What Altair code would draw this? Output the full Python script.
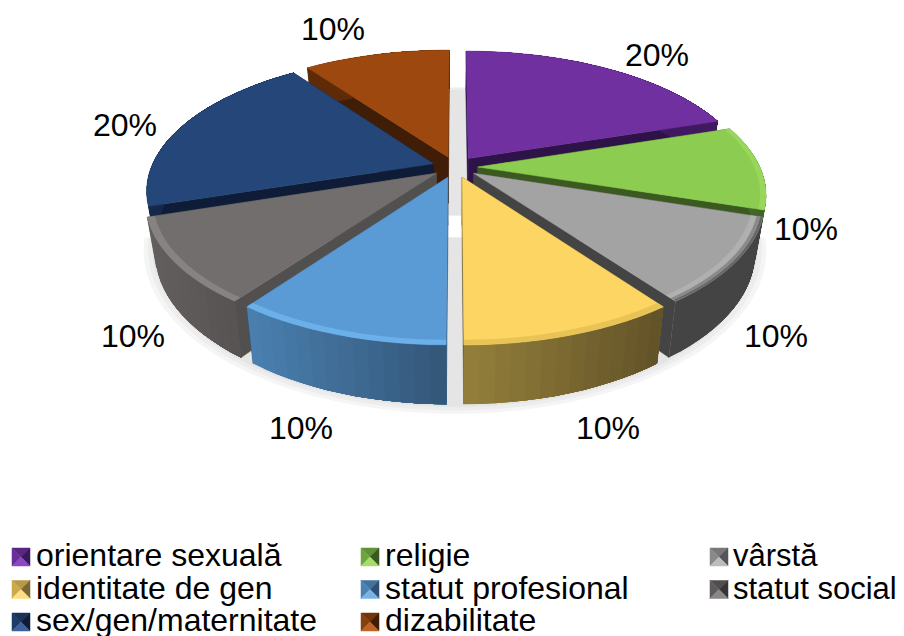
import math
import altair as alt

# ---- chart values ----
categories = ["orientare sexuală", "religie", "vârstă", "identitate de gen",
              "statut profesional", "statut social", "sex/gen/maternitate", "dizabilitate"]
shares = [20, 10, 10, 10, 10, 10, 20, 10]
percent_labels = ["20%", "10%", "10%", "10%", "10%", "10%", "20%", "10%"]

top_colors = ["#7030a0", "#8ccc50", "#a3a3a3", "#fcd562", "#5b9bd5", "#716e6d", "#244678", "#9c480f"]
edge_colors = ["#2d1347", "#3b5a20", "#444444", "#625228", "#335678", "#524f4f", "#0e1c38", "#401d06"]
side_left = ["#3f1a60", "#4a7a2c", "#444444", "#94803b", "#4a80b0", "#635f5e", "#16294a", "#5e2a08"]
side_right = ["#3f1a60", "#3f6526", "#444444", "#625228", "#335678", "#575352", "#16294a", "#5e2a08"]
rim_bands = [
    [],
    [(0.98, 1.0, "#98d65c")],
    [(0.96, 0.98, "#b0b0b0"), (0.98, 0.992, "#8a8a8a"), (0.992, 1.0, "#666666")],
    [(0.975, 1.0, "#e8c356")],
    [(0.975, 1.0, "#6cb0ea")],
    [(0.975, 1.0, "#868382")],
    [],
    [],
]
icon_bevel = [
    ("#5a2680", "#6a2e98", "#3a1860", "#8a48c0"),
    ("#5f9236", "#6fa53f", "#3b5a20", "#a5dc6c"),
    ("#787878", "#8a8a8a", "#555555", "#bcbcbc"),
    ("#b89a44", "#cbaa4c", "#7a6630", "#fde082"),
    ("#41739e", "#4a82b4", "#2d5072", "#7ab2e4"),
    ("#504e4d", "#5e5b5a", "#363434", "#8a8786"),
    ("#1a3258", "#1f3b68", "#0e1c38", "#3f629c"),
    ("#72350b", "#86400d", "#401d06", "#bc6428"),
]

# ---- layout (page pixels) ----
W, H, M = 888, 628, 8
CX, CY = 455.0, 167.0
AX, BY, KP = 282.0, 131.0, 0.192
EXPLODE, DEPTH, SHRINK = 0.081, 47.0, 0.03
label_anchor = [(657, 66), (806, 240), (776, 347), (608, 439), (301, 439), (133, 347), (125, 136), (333, 40)]
legend_cols = [(12, 36, 32), (361, 385, 32), (710, 733, 31)]
legend_rows = [566, 598.5, 631]
ICON = 18
draw_order = [7, 0, 6, 1, 5, 2, 4, 3]


def project(u, v, z=0.0):
    den = 1 + KP * v
    x = CX + AX * u / den * (1 - SHRINK * z)
    y = CY + (-BY * v + DEPTH * z) / den
    return [round(x - M, 2), round(y - M, 2)]


def mix(a, b, t):
    ca = [int(a[i:i + 2], 16) for i in (1, 3, 5)]
    cb = [int(b[i:i + 2], 16) for i in (1, 3, 5)]
    return "#%02x%02x%02x" % tuple(round(p + (q - p) * t) for p, q in zip(ca, cb))


features = []


def add(poly, color, opacity=1.0, sw=0.5):
    ring = list(poly) + [poly[0]]
    features.append({"type": "Feature",
                     "geometry": {"type": "Polygon", "coordinates": [ring]},
                     "properties": {"fill": color, "op": opacity, "sw": sw}})


# soft shadow under the pie: a back and a front part
for radius, alpha in [(1.11, 0.25), (1.095, 0.3), (1.08, 0.4)]:
    for lo, hi, chord in [(-90, 90, -0.03), (90, 270, -0.15)]:
        pts = []
        for d in range(lo, hi + 1, 4):
            a = math.radians(d)
            v = radius * math.cos(a)
            if lo == -90 and v < chord:
                continue
            if lo == 90 and v > chord:
                continue
            pts.append(project(radius * math.sin(a), v - 0.01, 1.0))
        add(pts, "#d9d9d9", alpha, 0.0)

# slices
cum = 0
spans = []
total = sum(shares)
for s in shares:
    spans.append((360 * cum / total, 360 * (cum + s) / total))
    cum += s

for i in draw_order:
    t0, t1 = spans[i]
    mid = math.radians((t0 + t1) / 2)
    eu, ev = EXPLODE * math.sin(mid), EXPLODE * math.cos(mid)

    def pt(theta, r, z=0.0):
        a = math.radians(theta)
        return project(eu + r * math.sin(a), ev + r * math.cos(a), z)

    steps = max(6, int((t1 - t0) / 2.5))
    thetas = [t0 + (t1 - t0) * n / steps for n in range(steps + 1)]
    # radial walls
    for th in (t0, t1):
        add([pt(th, 0), pt(th, 1), pt(th, 1, 1), pt(th, 0, 1)], edge_colors[i])
    # outer wall, shaded left to right; each piece overlaps the whole rest so no seams show
    xs = [pt(th, 1)[0] for th in thetas]
    xl, xr = min(xs), max(xs)
    order = list(range(steps))
    if pt(thetas[0], 1)[0] > pt(thetas[-1], 1)[0]:
        for n in order[::-1]:
            rest = thetas[:n + 2]
            xm = (pt(thetas[n], 1)[0] + pt(thetas[n + 1], 1)[0]) / 2
            tone = (xm - xl) / max(xr - xl, 1)
            add([pt(th, 1) for th in rest] + [pt(th, 1, 1) for th in reversed(rest)],
                mix(side_left[i], side_right[i], tone), 1.0, 0.0)
    else:
        for n in order:
            rest = thetas[n:]
            xm = (pt(thetas[n], 1)[0] + pt(thetas[n + 1], 1)[0]) / 2
            tone = (xm - xl) / max(xr - xl, 1)
            add([pt(th, 1) for th in rest] + [pt(th, 1, 1) for th in reversed(rest)],
                mix(side_left[i], side_right[i], tone), 1.0, 0.0)
    # top face
    add([pt(t0, 0)] + [pt(th, 1) for th in thetas], top_colors[i])
    for r0, r1, col in rim_bands[i]:
        add([pt(th, r1) for th in thetas] + [pt(th, r0) for th in reversed(thetas)], col, 1.0, 0.0)

# legend icons (four bevel triangles)
for idx, name in enumerate(categories):
    col = legend_cols[idx % 3][0] - M
    row = legend_rows[idx // 3] - M
    x0, x1, y1, y0 = col, col + ICON, row, row - ICON
    mx, my = (x0 + x1) / 2, (y0 + y1) / 2
    tc, lc, rc, bc = icon_bevel[idx]
    add([[x0, y0], [x1, y0], [mx, my]], tc)
    add([[x0, y0], [mx, my], [x0, y1]], lc)
    add([[x1, y0], [x1, y1], [mx, my]], rc)
    add([[x0, y1], [mx, my], [x1, y1]], bc)

geo_data = alt.InlineData(values={"type": "FeatureCollection", "features": features},
                          format=alt.DataFormat(property="features", type="json"))

shapes = alt.Chart(geo_data).mark_geoshape().encode(
    fill=alt.Fill("properties.fill:N", scale=None, legend=None),
    stroke=alt.Stroke("properties.fill:N", scale=None, legend=None),
    strokeWidth=alt.StrokeWidth("properties.sw:Q", scale=None, legend=None),
    opacity=alt.Opacity("properties.op:Q", scale=None, legend=None),
).project(type="identity", scale=1, translate=[0, 0])

rows = []
for lab, (lx, ly) in zip(percent_labels, label_anchor):
    rows.append({"t": lab, "x": lx - M, "y": ly - M, "a": "center", "s": 32})
for idx, name in enumerate(categories):
    rows.append({"t": name, "x": legend_cols[idx % 3][1] - M, "y": legend_rows[idx // 3] - M, "a": "left",
                 "s": legend_cols[idx % 3][2]})

x_scale = alt.Scale(domain=[0, W], range=[0, W])
y_scale = alt.Scale(domain=[0, H], range=[0, H])


def text_layer(align):
    return alt.Chart(alt.Data(values=[r for r in rows if r["a"] == align])).mark_text(
        font="Liberation Sans", color="#000000", align=align, baseline="alphabetic"
    ).encode(
        x=alt.X("x:Q", scale=x_scale, axis=None),
        y=alt.Y("y:Q", scale=y_scale, axis=None),
        size=alt.Size("s:Q", scale=None, legend=None),
        text="t:N",
    )


chart = alt.layer(shapes, text_layer("center"), text_layer("left")).resolve_scale(
    x="shared", y="shared"
).properties(width=W, height=H, padding=0, background="#ffffff",
             autosize=alt.AutoSizeParams(type="none")
).configure_view(stroke=None)

chart.save("out.html", embed_options={"renderer": "svg", "actions": False})
